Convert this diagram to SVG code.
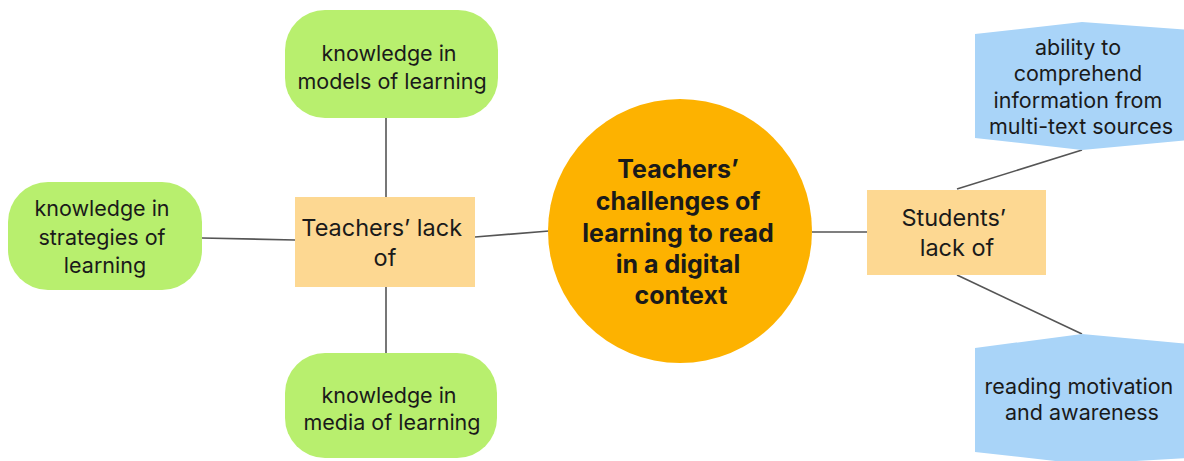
<svg xmlns="http://www.w3.org/2000/svg" width="1184" height="461" viewBox="0 0 1184 461">
  <style>
    .txt { font-family: Inter, "DejaVu Sans", sans-serif; fill: #1a1a1a; text-anchor: middle; }
    .leaf { fill: #b8ef6e; }
    .box { fill: #fdd892; }
    .hub { fill: #fdb200; }
    .hex { fill: #a9d4f8; }
    .link { stroke: #555; stroke-width: 1.6; fill: none; }
    .t-leaf { font-size: 21.5px; }
    .t-box { font-size: 23.5px; }
    .t-hex { font-size: 21.5px; }
    .bold { font-size: 25px; font-weight: 700; }
  </style>
  <rect width="1184" height="461" fill="#ffffff"/>

  <!-- connectors -->
  <g id="connectors">
    <line class="link" x1="475" y1="237" x2="549" y2="231"/>
    <line class="link" x1="202" y1="238" x2="295" y2="240"/>
    <line class="link" x1="386" y1="118" x2="386" y2="197"/>
    <line class="link" x1="386" y1="287" x2="386" y2="353"/>
    <line class="link" x1="812" y1="232" x2="867" y2="232"/>
    <line class="link" x1="957" y1="189" x2="1082" y2="150"/>
    <line class="link" x1="957" y1="275" x2="1082" y2="334"/>
  </g>

  <!-- central topic -->
  <g id="hub">
    <circle class="hub" cx="680" cy="231" r="132"/>
    <text class="txt bold">
      <tspan x="681" y="178">Teachers’</tspan>
      <tspan x="681" y="210">challenges of</tspan>
      <tspan x="681" y="242">learning to read</tspan>
      <tspan x="681" y="273">in a digital</tspan>
      <tspan x="681" y="304">context</tspan>
    </text>
  </g>

  <!-- teachers branch -->
  <g id="teachers-lack">
    <rect class="box" x="295" y="197" width="180" height="90"/>
    <text class="txt t-box">
      <tspan x="385" y="236">Teachers’ lack</tspan>
      <tspan x="385" y="266">of</tspan>
    </text>
  </g>

  <g id="models">
    <rect class="leaf" x="285" y="10" width="213" height="108" rx="40"/>
    <text class="txt t-leaf">
      <tspan x="392" y="61">knowledge in</tspan>
      <tspan x="392" y="89">models of learning</tspan>
    </text>
  </g>

  <g id="strategies">
    <rect class="leaf" x="8" y="182" width="194" height="108" rx="40"/>
    <text class="txt t-leaf">
      <tspan x="105" y="216">knowledge in</tspan>
      <tspan x="105" y="245">strategies of</tspan>
      <tspan x="105" y="273">learning</tspan>
    </text>
  </g>

  <g id="media">
    <rect class="leaf" x="285" y="353" width="212" height="105" rx="40"/>
    <text class="txt t-leaf">
      <tspan x="392" y="403">knowledge in</tspan>
      <tspan x="392" y="430">media of learning</tspan>
    </text>
  </g>

  <!-- students branch -->
  <g id="students-lack">
    <rect class="box" x="867" y="190" width="179" height="85"/>
    <text class="txt t-box">
      <tspan x="957" y="226">Students’</tspan>
      <tspan x="957" y="256">lack of</tspan>
    </text>
  </g>

  <g id="comprehend">
    <polygon class="hex" points="975,34 1082,22 1190,30 1190,140 1082,150 975,138"/>
    <text class="txt t-hex">
      <tspan x="1081" y="55">ability to</tspan>
      <tspan x="1081" y="81">comprehend</tspan>
      <tspan x="1081" y="108">information from</tspan>
      <tspan x="1081" y="134">multi-text sources</tspan>
    </text>
  </g>

  <g id="motivation">
    <polygon class="hex" points="975,348 1082,334 1190,344 1190,458 1082,464 975,452"/>
    <text class="txt t-hex">
      <tspan x="1082" y="394">reading motivation</tspan>
      <tspan x="1082" y="420">and awareness</tspan>
    </text>
  </g>
</svg>
